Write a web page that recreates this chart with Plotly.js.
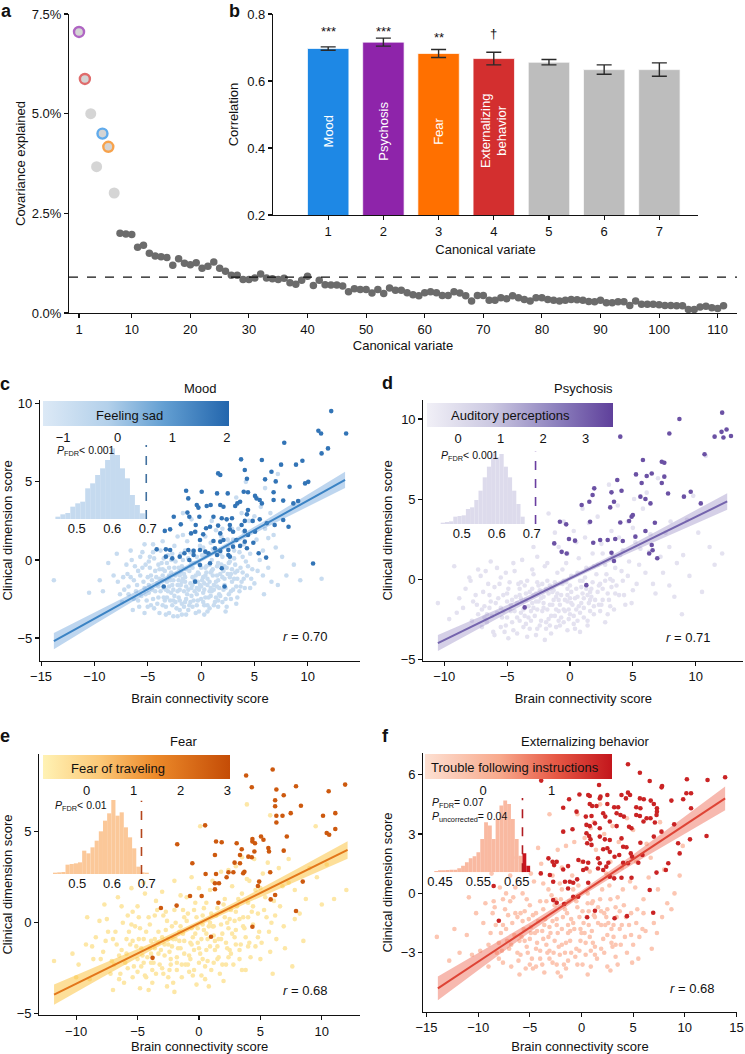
<!DOCTYPE html>
<html><head><meta charset="utf-8">
<script src="https://cdn.plot.ly/plotly-3.0.1.min.js"></script>
<style>html,body{margin:0;padding:0;background:#fff}#chart{width:745px;height:1054px}</style>
</head><body><div id="chart"></div>
<script>
// ---------------- DATA ----------------
// Panel a: covariance explained (%) per canonical variate (1..111)
const aCovariance = [7.05,5.87,5.0,3.67,4.5,4.17,3.01,2.0,1.98,1.97,
1.65,1.7,1.5,1.43,1.41,1.39,1.2,1.36,1.25,1.21,
1.26,1.12,1.17,1.28,1.12,1.05,0.95,0.95,0.84,0.84,
0.88,0.98,0.88,0.86,0.84,0.87,0.76,0.72,0.82,0.92,
0.69,0.82,0.71,0.70,0.70,0.68,0.53,0.61,0.59,0.59,
0.50,0.59,0.49,0.63,0.57,0.57,0.51,0.46,0.43,0.51,
0.53,0.51,0.44,0.44,0.53,0.50,0.43,0.30,0.44,0.44,
0.32,0.32,0.38,0.36,0.43,0.38,0.34,0.30,0.38,0.38,
0.34,0.32,0.30,0.32,0.34,0.33,0.32,0.29,0.28,0.32,
0.26,0.26,0.28,0.28,0.19,0.30,0.22,0.22,0.22,0.21,
0.19,0.19,0.18,0.18,0.09,0.09,0.15,0.17,0.13,0.11,
0.18];
const aNullLevel = 0.9;
const aXTicks = [1,10,20,30,40,50,60,70,80,90,100,110];
const aYTicks = [0,2.5,5,7.5];
const aYTickText = ['0.0%','2.5%','5.0%','7.5%'];

// Panel b: correlation per canonical variate
const bVariate = [1,2,3,4,5,6,7];
const bCorr = [0.697,0.716,0.682,0.667,0.656,0.634,0.634];
const bErr = [0.005,0.012,0.012,0.019,0.008,0.014,0.020];
const bNames = ['Mood','Psychosis','Fear','Externalizing<br>behavior'];
const bSig = ['***','***','**','†'];
const bSigY = [0.749,0.749,0.731,0.743];

// Panel c: Mood
const cLight = [[-13.8,-1.3],[-9.2,-2.0],[-8.7,-0.2],[-7.2,-1.9],[-6.5,0.0],[-6.3,-2.5],[-7.8,-1.4],[-6.9,-0.9],[-6.0,-1.6],[-5.8,-3.0],
[-5.5,0.5],[-5.2,-0.3],[-5.0,-1.1],[-4.9,-2.1],[-4.7,-2.9],[-4.5,1.0],[-4.4,0.1],[-4.3,-0.7],[-4.1,-1.5],[-4.0,-2.4],
[-3.9,-3.4],[-3.8,0.6],[-3.7,-0.2],[-3.6,-1.0],[-3.5,-1.8],[-3.4,-2.6],[-3.3,-3.0],[-3.1,0.3],[-3.0,-0.5],[-2.9,-1.3],
[-2.8,-2.1],[-2.7,-2.9],[-2.6,-3.6],[-2.5,0.9],[-2.4,-0.1],[-2.3,-0.9],[-2.2,-1.6],[-2.1,-2.4],[-2.0,-3.2],[-1.9,0.4],
[-1.8,-0.4],[-1.7,-1.2],[-1.6,-2.0],[-1.5,-2.7],[-1.4,-3.5],[-1.3,1.2],[-1.2,0.1],[-1.1,-0.7],[-1.0,-1.5],[-0.9,-2.3],
[-0.8,-3.0],[-0.7,0.6],[-0.6,-0.2],[-0.5,-1.0],[-0.4,-1.8],[-0.3,-2.6],[-0.2,-3.3],[-0.1,0.9],[0.0,-0.5],[0.1,-1.3],
[0.2,-2.1],[0.3,-2.9],[0.4,0.3],[0.5,-0.8],[0.6,-1.6],[0.7,-2.4],[0.8,-3.1],[0.9,1.1],[1.0,0.0],[1.1,-1.0],
[1.2,-1.9],[1.3,-2.7],[1.4,0.5],[1.5,-0.4],[1.6,-1.3],[1.7,-2.2],[1.9,1.5],[2.0,0.2],[2.1,-0.7],[2.2,-1.6],
[2.3,-2.5],[2.5,0.8],[2.6,-0.2],[2.7,-1.1],[2.8,-2.0],[3.0,1.3],[3.1,0.1],[3.2,-0.8],[3.3,-1.7],[3.5,2.0],
[3.6,0.5],[3.7,-0.5],[3.8,-1.4],[4.0,1.0],[4.2,-0.1],[4.3,-1.0],[4.5,2.5],[4.6,0.4],[4.8,-0.6],[5.0,-1.5],
[5.2,1.3],[5.5,0.0],[5.8,-1.0],[6.0,2.0],[6.3,-0.5],[6.6,-1.4],[7.2,-1.6],[7.0,0.8],[8.7,-0.3],[11.3,-1.2],
[-1.7,3.0],[-1.7,1.6],[7.2,5.5],[3.3,4.0],[4.2,5.0],[6.0,4.6],[2.0,2.0],[-0.5,1.8],[1.0,2.5],[2.5,1.3],[5.0,2.8],[4.0,1.8],[6.5,3.0],
[-3.2,-1.4],[-2.6,-1.9],[-2.0,-1.0],[-1.4,-1.7],[-0.8,-1.1],[-0.2,-1.9],[0.4,-1.0],[1.0,-2.0],[-4.6,-1.3],[-3.9,-0.6],
[-2.4,-2.7],[-1.1,-2.9],[0.3,-3.5],[1.6,-3.0],[-5.6,-2.3],[-6.2,-0.4],[-3.0,-3.4],[-1.8,-3.5],[2.4,-3.0],[3.4,-2.4],
[-7.4,-2.7],[-5.3,-3.4],[0.8,-0.3],[-0.4,0.2],[1.8,-0.9],[2.9,-1.4],[-2.8,0.0],[-4.8,0.2],[-1.5,0.6],[0.2,0.8],
[-6.6,-1.1],[-6.1,-2.0],[-5.9,-0.7],[-5.4,-1.4],[-5.1,-2.6],[-4.8,-0.5],[-4.6,-1.9],[-4.4,-3.1],[-4.2,-1.1],[-4.0,-0.3],
[-3.8,-2.0],[-3.6,-2.9],[-3.4,-0.7],[-3.2,-2.4],[-3.0,-1.7],[-2.8,-0.8],[-2.6,-1.3],[-2.5,-2.3],[-2.3,-3.1],[-2.1,-0.5],
[-2.0,-1.9],[-1.8,-2.8],[-1.6,-0.9],[-1.5,-1.4],[-1.3,-2.2],[-1.2,-3.2],[-1.0,-0.4],[-0.9,-1.8],[-0.7,-2.6],[-0.6,-1.3],
[-0.4,-2.2],[-0.3,-0.8],[-0.1,-1.6],[0.0,-2.5],[0.2,-1.1],[0.3,-1.9],[0.5,-0.4],[0.6,-2.9],[0.8,-1.4],[0.9,-2.3],
[1.1,-0.6],[1.2,-1.6],[1.4,-2.4],[1.5,-1.0],[1.7,-1.8],[1.9,-0.3],[2.0,-2.7],[2.2,-1.2],[2.4,-0.5],[2.6,-2.2],
[2.8,-0.9],[3.0,-1.9],[3.2,-0.3],[3.4,-1.2],[3.6,-2.0],[3.9,-0.8],[4.1,-1.8],[4.4,-0.4],[4.7,-1.2],[5.3,-0.7],
[-6.8,-2.2],[-7.0,-0.3],[-5.7,0.2],[-5.0,-3.0],[-4.5,0.5],[-3.5,0.1],[-3.3,-3.5],[-2.7,0.4],[-2.2,-3.6],[-1.7,0.0],
[-1.0,0.5],[-0.5,-3.4],[0.1,0.3],[0.6,-3.3],[1.1,0.7],[1.8,0.4],[2.3,-3.3],[3.1,0.6],[3.9,0.2],[4.6,-1.8],
[-8.2,-1.0],[-7.6,-2.2],[-6.4,-3.2],[-5.3,-1.8],[-4.9,-0.1],[-4.1,-2.8],[-3.7,-1.3],[-3.1,-2.0],[-2.4,-1.0],[-1.9,-1.6],
[-1.4,-2.5],[-0.8,-1.6],[-0.2,-0.2],[0.4,-2.4],[0.9,-0.8],[1.6,-2.6],[2.1,-1.9],[2.7,-0.1],[3.3,-2.8],[4.0,-1.2],
[-9.5,-1.3],[-10.5,-2.1],[-7.9,0.4],[-6.6,0.6],[5.8,0.6],[6.3,1.4],[7.6,0.2],[8.0,-1.0],[9.3,-1.3],[5.9,-2.2],
[2.9,2.0],[1.4,1.9],[0.4,1.5],[-0.9,2.6],[3.8,3.0],[5.6,3.4],[6.8,1.6],[-2.2,1.5],[-3.6,1.2],[-5.3,1.0],
[-5.7,-1.0],[-5.2,-2.2],[-4.7,-1.0],[-4.3,-2.0],[-3.9,-1.2],[-3.5,-2.4],[-3.2,-0.2],[-2.9,-2.6],[-2.7,-1.6],[-2.5,-0.5],
[-2.2,-2.0],[-2.0,-2.6],[-1.8,-1.4],[-1.6,-3.0],[-1.4,-0.6],[-1.2,-1.9],[-1.0,-2.7],[-0.8,-0.5],[-0.6,-2.0],[-0.4,-2.9],
[-0.2,-0.9],[0.0,-1.7],[0.2,-2.7],[0.4,-0.5],[0.6,-1.2],[0.8,-2.0],[1.0,-0.7],[1.2,-2.9],[1.4,-1.4],[1.6,-0.2],
[1.8,-2.3],[2.0,-1.1],[2.3,-1.8],[2.5,-0.9],[2.8,-2.5],[3.1,-1.2],[3.4,-0.7],[3.7,-1.7],[-5.9,-2.6],[-6.3,-1.3],
[-4.5,-2.5],[-4.0,-1.7],[-3.6,-0.6],[-3.0,-1.0],[-2.6,-2.6],[-2.1,-1.3],[-1.5,-1.1],[-0.9,-0.2],[-0.3,-1.4],[0.3,-1.5],
[0.9,-1.8],[1.5,-1.7],[2.2,-0.4],[2.9,-0.6],[-7.3,-1.1],[-6.8,-1.7],[-5.5,-0.5],[-4.9,-1.6],[-3.3,-1.9],[-1.9,-0.8]];
const cDark = [[12.2,9.53],[11.0,8.27],[11.25,8.1],[13.6,8.1],[7.8,7.5],[11.9,7.14],[11.3,6.82],[3.75,6.44],[5.7,6.4],[7.5,6.1],
[8.9,6.1],[9.5,6.35],[4.1,5.76],[6.6,5.65],[1.6,5.54],[1.8,5.44],[4.3,5.2],[6.0,5.16],[7.0,5.03],[9.75,4.9],
[10.05,5.0],[-1.4,4.43],[0.06,4.37],[1.5,4.26],[2.5,4.26],[4.0,4.37],[4.4,4.33],[8.3,4.69],[6.8,4.33],[5.06,4.1],
[5.2,3.94],[5.5,3.84],[5.7,3.62],[6.8,3.84],[7.7,3.8],[8.65,3.62],[9.1,3.77],[-1.2,3.94],[-0.4,3.52],[-0.25,3.35],
[0.53,3.45],[0.9,3.52],[1.8,3.52],[2.1,3.41],[3.2,3.45],[3.4,3.62],[3.66,3.73],[4.4,3.2],[4.3,2.92],[-2.56,2.77],
[-1.28,3.03],[-1.1,2.77],[-0.16,2.77],[1.16,2.77],[1.94,2.67],[2.4,2.6],[2.9,2.67],[5.5,2.6],[6.16,2.35],[6.9,2.24],
[8.2,2.13],[7.7,2.56],[-1.9,2.28],[-0.5,2.24],[0.47,2.03],[0.84,2.13],[1.6,2.2],[2.7,2.24],[3.8,2.24],[4.1,2.5],
[4.84,2.5],[-3.4,1.86],[-2.9,1.96],[-0.94,1.7],[-0.56,1.81],[0.2,1.64],[1.8,1.7],[2.7,1.96],[3.0,1.81],[4.1,1.86],
[4.4,1.6],[5.06,1.81],[-0.1,1.28],[1.16,1.21],[1.8,1.17],[2.1,1.28],[3.3,1.28],[4.1,1.17],[4.9,1.1],[-4.16,0.68],
[-3.3,0.68],[-2.9,0.64],[-1.2,0.64],[-0.7,0.58],[-0.1,0.64],[0.4,0.53],[1.3,0.75],[1.8,0.58],[2.56,0.64],[3.0,0.85],
[3.66,0.9],[4.3,0.75],[5.4,0.43],[-3.3,0.21],[-2.7,0.1],[-2.0,0.21],[-1.56,0.43],[-1.1,0.0],[-0.7,0.32],[0.7,0.43],
[1.5,0.32],[2.56,0.32],[2.7,0.21],[6.1,0.15],[10.5,-0.23],[-0.1,-0.32],[0.84,-0.21],[1.94,-0.53],[-3.5,-1.7],[2.2,-1.7],[-0.56,-1.39]];
const cFitX = [-13.8,-10,-6,-3,0,3,6,10,13.5];
const cFitY = [-5.20,-3.76,-2.25,-1.11,0.02,1.15,2.29,3.80,5.12];
const cFitHi = [-4.68,-3.38,-2.01,-0.95,0.15,1.31,2.53,4.18,5.64];
const cFitLo = [-5.72,-4.14,-2.49,-1.27,-0.11,0.99,2.05,3.42,4.60];
const cHistX = [0.447,0.461,0.475,0.489,0.503,0.517,0.531,0.545,0.559,0.573,0.587,0.601,0.615,0.629,0.643,0.657,0.671,0.685];
const cHistY = [7,14,18,37,47,52,92,107,132,152,177,212,192,152,122,72,42,17];
const cObserved = 0.696;
const cScaleTicks = [-1,0,1,2];

// Panel d: Psychosis
const dLight = [[-10.5,-1.5],[-9.2,0.8],[-8.0,0.1],[-7.3,0.6],[-5.8,0.7],[-1.7,4.1],[11.1,2.0],[12.1,1.6],[8.9,-2.2],[10.5,-0.8],
[7.9,-0.4],[4.2,1.8],[3.1,5.9],[9.3,3.7],[10.8,7.7],
[-8.5,-1.8],[-7.8,-2.6],[-7.5,-1.0],[-7.0,-3.0],[-6.8,-1.7],[-6.5,-0.3],[-6.2,-2.3],[-6.0,-3.5],[-5.7,-1.2],[-5.5,0.1],
[-5.3,-2.0],[-5.1,-2.9],[-4.9,-0.6],[-4.7,-1.6],[-4.5,-3.2],[-4.4,0.5],[-4.2,-2.4],[-4.0,-1.0],[-3.9,-0.2],[-3.7,-1.9],
[-3.5,-2.8],[-3.4,-3.6],[-3.2,-0.8],[-3.0,-1.5],[-2.9,0.3],[-2.8,-2.3],[-2.6,-3.1],[-2.5,-0.4],[-2.3,-1.2],[-2.2,-2.0],
[-2.0,0.8],[-1.9,-2.7],[-1.8,-0.1],[-1.6,-1.6],[-1.5,-3.4],[-1.3,-0.7],[-1.2,-2.3],[-1.0,0.4],[-0.9,-1.3],[-0.8,-2.9],
[-0.6,-0.3],[-0.5,-1.9],[-0.3,1.0],[-0.2,-1.0],[-0.1,-2.5],[0.1,0.2],[0.2,-1.6],[0.4,-3.1],[0.5,-0.6],[0.7,1.3],
[0.8,-2.1],[1.0,-0.1],[1.1,-1.2],[1.3,0.7],[1.4,-2.6],[1.6,-0.8],[1.8,1.6],[1.9,-1.7],[2.1,0.3],[2.3,-0.4],
[2.5,2.2],[2.6,-1.3],[2.8,0.9],[3.0,-2.2],[3.2,0.0],[3.4,1.4],[3.6,-0.9],[3.9,2.6],[4.1,0.5],[4.4,-1.6],
[4.7,1.1],[5.0,3.2],[5.3,-0.3],[5.6,1.9],[6.0,0.4],[6.4,2.8],[6.8,-0.9],[7.2,1.4],[5.8,4.4],[4.6,3.6],
[3.3,3.0],[2.2,3.9],[1.2,2.6],[0.3,3.0],[-0.9,2.0],[-2.6,1.4],[-3.8,1.2],[-5.0,-1.4],[-4.0,-2.6],[-3.1,-2.0],
[-2.1,-1.5],[-1.1,-1.9],[-0.2,-1.4],[0.6,-2.6],[-1.7,-0.9],[-2.7,-0.9],[-3.6,-0.4],[0.0,-0.4],[1.5,-1.5],[-6.4,-1.0],
[-7.1,0.2],[-9.0,-2.1],[-8.3,-0.6],[7.6,2.9],[8.5,1.0],[9.5,0.2],[6.1,5.4],[8.0,3.6],[1.0,4.4],[-0.5,3.6],
[3.8,4.6],[5.1,5.0],[9.8,5.2],[7.0,6.3],
[-7.7,-1.4],[-7.3,-2.2],[-6.9,-0.8],[-6.6,-2.7],[-6.3,-1.4],[-6.0,-0.5],[-5.8,-2.1],[-5.5,-3.0],[-5.3,-1.0],[-5.0,-2.4],
[-4.8,-0.2],[-4.6,-1.3],[-4.4,-2.0],[-4.2,-3.4],[-4.0,-0.6],[-3.8,-1.4],[-3.6,-2.3],[-3.4,-0.1],[-3.3,-1.7],[-3.1,-2.6],
[-2.9,-1.0],[-2.7,-3.5],[-2.6,-1.9],[-2.4,-0.7],[-2.3,-2.6],[-2.1,-1.1],[-1.9,-3.1],[-1.8,-1.9],[-1.6,-0.4],[-1.5,-2.3],
[-1.3,-1.3],[-1.1,-3.0],[-1.0,-0.9],[-0.8,-1.6],[-0.7,-2.4],[-0.5,-0.1],[-0.4,-1.3],[-0.2,-3.2],[-0.1,-1.9],[0.1,-0.8],
[0.3,-2.3],[0.4,-1.2],[0.6,0.4],[0.7,-1.7],[0.9,-0.5],[1.1,-2.4],[1.2,0.1],[1.4,-1.0],[1.6,-2.0],[1.8,-0.2],
[2.0,-1.3],[2.2,0.9],[2.4,-2.0],[2.6,-0.6],[2.9,0.3],[3.1,-1.3],[3.3,-0.5],[3.6,0.7],[3.9,-1.0],[4.2,-0.1],
[4.6,0.2],[5.0,-0.7],[5.5,0.9],[-5.1,0.4],[-6.1,-3.3],[-4.9,-3.7],[-3.0,0.6],[-2.0,-3.8],[-0.6,0.6],[0.8,-3.3],
[1.9,0.8],[2.8,-2.7],[3.5,-1.9],[-8.8,-1.2],[-9.6,-2.5],[-7.9,-0.1],[-7.0,-1.9],[-6.7,0.5],[-5.6,-0.3],[-4.3,-1.1],
[-3.7,-3.0],[-3.5,-0.9],[-2.5,-1.4],[-1.4,-0.8],[-0.9,-2.0],[0.0,-1.2],[0.9,-1.5],[1.7,-0.6],[2.3,-1.6],[3.4,-0.1],
[-1.8,1.0],[-0.2,1.6],[0.5,2.3],[2.6,1.6],[4.0,1.5],[5.2,2.3],[6.3,1.7],[7.9,2.0],[8.3,-1.1],[9.0,1.5],
[6.6,-0.3],[7.4,0.4],[4.9,-1.5],[10.2,2.9],[11.5,0.9],[-4.5,1.0],[-6.3,1.1],[-2.9,2.0],[-1.2,2.9],[1.5,3.5],
[-6.4,-1.8],[-5.9,-1.5],[-5.4,-2.4],[-5.0,-0.9],[-4.6,-2.7],[-4.2,-1.5],[-3.9,-2.1],[-3.5,-1.3],[-3.2,-3.1],[-2.9,-1.8],
[-2.6,-0.2],[-2.4,-2.9],[-2.1,-1.8],[-1.9,-0.6],[-1.7,-2.5],[-1.4,-1.6],[-1.2,-0.2],[-0.9,-2.6],[-0.7,-1.0],[-0.4,-2.0],
[-0.2,-0.6],[0.1,-1.5],[0.3,-2.8],[0.6,-1.1],[0.8,-0.1],[1.1,-1.8],[1.3,-0.6],[1.6,-1.3],[1.9,-2.2],[2.2,-0.8],
[2.5,-1.6],[2.8,-0.1],[3.2,-1.7],[3.7,-0.4],[4.3,-1.0],[-7.4,-1.6],[-6.6,-2.2],[-5.2,-3.3],[-4.1,-0.3],[-3.3,-2.4],
[-2.7,-1.4],[-2.2,-0.3],[-1.6,-2.9],[-1.1,-1.1],[-0.5,-2.7],[0.0,-2.2],[0.5,-1.9],[1.0,-0.9],[1.7,-1.1],[2.4,-0.3],
[-3.9,-1.2],[-4.7,-2.0],[-3.0,-0.6],[-0.3,-0.2],[1.4,-2.9],[3.0,-0.9],[-5.5,-1.8],[-6.8,-2.4]];
const dDark = [[12.1,10.4],[8.7,10.0],[7.9,9.1],[12.05,9.2],[12.45,9.35],[12.8,8.94],[11.5,8.9],[12.2,8.85],[4.0,8.9],[10.7,7.8],
[5.8,7.44],[7.3,7.33],[7.5,7.27],[3.76,6.19],[5.25,6.54],[6.5,6.6],[6.1,6.44],[5.7,6.0],[7.3,6.0],[7.5,6.4],
[1.93,5.67],[4.1,5.52],[3.3,5.42],[9.6,5.46],[9.06,5.15],[7.8,5.35],[5.6,5.15],[6.0,5.0],[6.4,4.73],[10.4,4.73],
[1.8,5.25],[0.93,4.63],[1.54,4.83],[3.5,4.83],[3.2,4.48],[-0.8,3.58],[-0.3,3.42],[1.6,3.58],[4.0,3.54],[4.7,3.63],
[4.9,3.9],[5.0,4.0],[6.75,3.52],[6.0,3.0],[-1.25,2.23],[-0.08,2.5],[0.4,2.4],[1.85,2.27],[2.4,2.44],[3.0,2.44],
[3.6,2.5],[4.2,2.38],[5.2,2.65],[6.5,2.13],[6.3,1.6],[6.57,1.8],[6.94,1.3],[-0.66,1.7],[-0.26,1.6],[3.3,1.65],
[3.5,1.13],[1.3,-0.38],[-3.6,-1.77]];
const dFitX = [-10.5,-7,-3.5,0,3.5,7,10,12.5];
const dFitY = [-4.0,-2.65,-1.31,0.04,1.39,2.73,3.89,4.85];
const dFitHi = [-3.5,-2.31,-1.11,0.17,1.57,3.03,4.31,5.37];
const dFitLo = [-4.5,-2.99,-1.51,-0.09,1.21,2.43,3.47,4.33];
const dHistX = [0.446,0.458,0.470,0.482,0.494,0.506,0.518,0.530,0.542,0.554,0.566,0.578,0.590,0.602,0.614,0.626,0.638,0.650,0.662,0.674];
const dHistY = [4,6,8,22,24,26,45,50,72,100,140,172,212,200,210,172,140,100,60,22];
const dObserved = 0.711;
const dScaleTicks = [0,1,2,3];

// Panel e: Fear
const eLight = [[-11.8,-2.1],[-10.0,-3.0],[-9.2,-1.2],[-8.7,-1.3],[-8.1,0.1],[-7.5,0.2],[-4.5,2.2],[0.1,5.3],[3.9,6.5],[5.8,5.9],
[9.5,5.3],[12.0,1.8],[7.8,1.8],[7.6,-2.4],[4.5,3.5],
[-9.8,-2.3],[-8.9,-3.1],[-8.0,-2.0],[-7.6,-1.0],[-7.2,-2.8],[-6.8,-0.5],[-6.5,-1.8],[-6.1,-3.3],[-5.8,0.4],[-5.6,-1.2],
[-5.3,-2.4],[-5.0,0.9],[-4.8,-0.3],[-4.6,-1.8],[-4.3,-3.0],[-4.1,0.3],[-3.9,-1.0],[-3.7,-2.2],[-3.5,1.2],[-3.3,-0.5],
[-3.1,-1.5],[-2.9,-2.8],[-2.7,0.6],[-2.5,-0.9],[-2.3,-2.0],[-2.1,-3.3],[-1.9,0.0],[-1.7,-1.4],[-1.5,1.5],[-1.3,-0.6],
[-1.1,-2.3],[-0.9,0.5],[-0.7,-1.1],[-0.5,-2.9],[-0.3,1.1],[-0.1,-0.3],[0.1,-1.7],[0.3,0.4],[0.5,-2.4],[0.7,-0.9],
[0.9,1.8],[1.1,-0.2],[1.3,-1.5],[1.5,0.8],[1.7,-2.8],[1.9,-0.6],[2.1,1.3],[2.3,-1.4],[2.5,0.2],[2.7,2.0],
[2.9,-0.8],[3.1,0.9],[3.3,-2.0],[3.5,1.6],[3.7,-0.3],[3.9,2.4],[4.1,-1.1],[4.3,0.6],[4.6,1.8],[4.9,-0.5],
[5.2,2.7],[5.5,0.3],[5.8,-1.6],[6.1,1.2],[6.5,3.0],[6.9,-0.2],[7.3,2.2],[7.0,-1.4],[8.2,0.5],[9.0,3.0],
[10.0,1.0],[-4.9,-0.9],[-3.8,-2.6],[-2.8,-1.2],[-1.8,-2.6],[-0.8,-1.8],[0.2,-2.9],[1.2,-2.2],[-2.2,-0.2],[-1.2,0.3],
[0.4,-0.4],[1.6,-0.9],[2.6,-1.7],[-3.6,0.4],[-5.2,-0.2],[-6.3,0.9],[-4.4,1.6],[-2.0,2.3],[-0.6,2.5],[0.6,1.1],
[1.8,2.8],[3.0,3.1],[2.0,-3.2],[-0.2,-3.4],[-2.6,-3.5],[-4.8,-3.6],[3.8,-2.6],[5.0,-2.0],[6.0,-2.8],[-7.0,-3.7],
[-6.9,-2.3],[-0.4,0.7],[-1.4,-3.0],[1.0,0.5],[2.2,-2.3],
[-7.8,-1.6],[-7.4,-0.5],[-7.1,-2.1],[-6.7,-1.2],[-6.4,-2.8],[-6.2,0.0],[-5.9,-1.7],[-5.7,-0.5],[-5.4,-3.0],[-5.1,-1.3],
[-4.9,0.3],[-4.7,-2.4],[-4.5,-0.9],[-4.2,-1.9],[-4.0,-0.1],[-3.8,-3.3],[-3.6,-1.4],[-3.4,0.7],[-3.2,-2.3],[-3.0,-0.8],
[-2.8,-1.8],[-2.6,0.1],[-2.4,-2.6],[-2.2,-1.3],[-2.0,0.7],[-1.8,-1.9],[-1.6,-0.5],[-1.4,-2.3],[-1.2,-1.0],[-1.0,0.1],
[-0.8,-2.7],[-0.6,-0.3],[-0.4,-1.5],[-0.2,0.3],[0.0,-2.2],[0.2,-0.9],[0.4,0.8],[0.6,-1.5],[0.8,-0.2],[1.0,-2.6],
[1.2,-0.7],[1.4,0.4],[1.6,-1.9],[1.8,-0.1],[2.0,1.0],[2.2,-1.1],[2.4,-0.3],[2.6,0.7],[2.8,-2.3],[3.0,-0.4],
[3.2,1.3],[3.4,-1.2],[3.6,0.3],[3.8,-0.8],[4.0,1.1],[4.2,-1.9],[4.4,-0.1],[4.8,0.5],[5.1,-1.1],[5.4,1.4],
[5.9,0.0],[6.3,-0.9],[6.6,0.9],[-6.0,-2.2],[-5.0,-2.0],[-4.4,-2.9],[-3.3,-1.1],[-2.5,-3.0],[-1.5,-1.4],[-0.5,-0.8],
[0.5,-3.1],[1.5,-1.3],[2.5,-1.5],[3.5,-2.6],[-8.4,-0.8],[-9.1,0.3],[-8.6,-2.0],[-10.3,-1.7],[-7.7,1.0],[-6.6,1.4],
[-5.5,1.9],[-3.0,1.7],[-1.0,1.4],[0.0,1.9],[1.1,2.3],[2.4,2.9],[3.5,3.6],[4.1,2.3],[5.6,3.3],[6.8,2.0],
[7.8,0.2],[8.7,1.3],[9.6,2.5],[7.3,3.5],[10.4,3.2],[11.0,1.3],[8.5,-1.0],[-2.0,-3.8],[0.8,-3.5],[-4.1,-3.7],
[-1.9,-0.9],[-0.1,-1.1],[1.9,-2.3],[-3.9,-1.7],[-5.4,0.6],[-2.9,0.4],[0.9,0.0],[2.9,0.1],[4.6,-1.3],[5.0,1.9],
[-6.3,-1.5],[-5.8,-2.5],[-5.4,-1.0],[-5.0,-2.7],[-4.7,-1.4],[-4.3,-0.5],[-3.9,-2.2],[-3.6,-0.9],[-3.3,-1.7],[-3.0,-2.5],
[-2.7,-0.4],[-2.4,-1.6],[-2.1,-0.9],[-1.8,-2.2],[-1.5,-0.2],[-1.2,-1.7],[-0.9,-2.3],[-0.6,-1.2],[-0.3,-0.6],[0.0,-1.4],
[0.3,-2.0],[0.6,-0.6],[0.9,-1.3],[1.2,-0.2],[1.5,-2.0],[1.8,-0.9],[2.1,0.3],[2.4,-1.9],[2.7,-0.6],[3.0,0.6],
[3.3,-1.5],[3.6,-0.2],[4.0,-1.3],[4.4,0.9],[4.8,-0.8],[5.3,0.7],[5.7,-0.5],[6.2,0.4],[-7.0,-0.9],[-6.5,-3.1],
[-5.5,-0.1],[-4.5,-2.2],[-3.5,-2.8],[-2.5,-1.2],[-1.6,-1.0],[-0.7,-2.0],[0.3,-0.1],[1.3,-1.0],[2.3,0.0],[3.3,0.2],
[-1.3,0.7],[-0.4,-2.6],[0.7,-2.1],[-2.3,-2.3],[-4.0,-1.4],[-5.9,-0.9],[4.0,0.3],[3.0,-1.2]];
const eDark = [[6.0,8.42],[3.84,8.09],[4.3,7.44],[6.3,7.32],[7.9,7.5],[11.9,7.59],[6.9,7.0],[6.2,6.73],[6.2,6.4],[10.56,7.22],
[8.3,6.43],[7.47,6.02],[11.1,6.02],[10.1,5.88],[6.3,5.88],[6.8,5.88],[6.3,5.51],[0.5,5.35],[10.4,4.93],[10.6,4.83],
[11.1,5.15],[7.15,4.74],[5.05,4.74],[5.25,4.56],[4.35,4.6],[4.35,4.46],[4.56,4.37],[5.65,4.1],[5.7,3.91],[-1.77,4.31],
[1.39,4.46],[1.85,4.42],[3.07,4.37],[3.48,4.04],[4.51,3.91],[4.02,3.63],[4.3,3.6],[3.34,3.72],[6.9,3.96],[1.3,3.72],
[-0.54,3.27],[2.9,3.3],[3.34,3.27],[3.7,2.8],[3.6,2.72],[0.54,2.68],[1.39,2.68],[2.4,2.77],[2.8,2.77],[5.8,2.77],
[2.25,2.5],[1.3,2.17],[1.63,2.17],[4.9,2.26],[4.8,2.02],[8.45,2.26],[1.3,1.84],[-0.73,1.47],[0.22,1.47],[-1.82,0.94],
[-3.1,0.81],[1.58,1.1],[5.84,1.28],[6.2,1.52],[7.9,0.64],[0.98,-0.77],[4.35,-0.22],[-3.78,-1.93]];
const eFitX = [-11.8,-8,-4,0,4,8,12.1];
const eFitY = [-3.95,-2.69,-1.36,-0.03,1.31,2.64,4.0];
const eFitHi = [-3.4,-2.33,-1.16,0.11,1.51,2.97,4.48];
const eFitLo = [-4.5,-3.05,-1.56,-0.17,1.11,2.31,3.52];
const eHistX = [0.436,0.448,0.460,0.472,0.484,0.496,0.508,0.520,0.532,0.544,0.556,0.568,0.580,0.592,0.604,0.616,0.628,0.640,0.652,0.664,0.676,0.688,0.700];
const eHistY = [4,5,6,28,30,32,35,70,62,80,100,128,160,182,222,175,185,140,110,77,22,5,4];
const eObserved = 0.685;
const eScaleTicks = [0,1,2,3];

// Panel f: Externalizing behavior
const fLight = [[-14.0,-2.2],[-12.8,-3.4],[-11.1,-2.1],[-10.6,-3.1],[-8.5,-0.4],[-7.3,0.0],[-3.1,4.0],[8.7,-0.8],[7.3,-2.0],[6.0,-1.0],
[-3.1,-3.3],[-2.3,-4.0],[2.5,-3.7],[-7.6,-3.5],
[-9.5,-1.5],[-9.0,-2.6],[-8.6,-1.0],[-8.2,-3.0],[-7.8,-2.0],[-7.4,-0.8],[-7.0,-2.8],[-6.7,-1.5],[-6.4,0.3],[-6.1,-3.4],
[-5.8,-2.2],[-5.5,-0.9],[-5.2,-3.0],[-4.9,-1.7],[-4.6,0.6],[-4.3,-2.5],[-4.0,-0.4],[-3.8,-3.6],[-3.5,-1.3],[-3.2,-2.2],
[-2.9,-0.1],[-2.7,-3.0],[-2.4,-1.6],[-2.1,0.5],[-1.9,-2.6],[-1.6,-0.8],[-1.3,-3.4],[-1.1,-1.9],[-0.8,0.2],[-0.5,-2.8],
[-0.2,-1.2],[0.1,-3.6],[0.3,-2.0],[0.6,0.0],[0.9,-2.9],[1.2,-1.1],[1.5,-3.3],[1.8,-0.3],[2.1,-2.3],[2.4,-1.2],
[2.7,0.4],[3.0,-2.7],[3.3,-0.7],[3.7,-1.8],[4.0,0.2],[4.4,-3.0],[4.8,-1.0],[5.2,0.3],[5.6,-2.2],[6.0,-0.3],
[6.5,0.8],[7.0,-1.5],[8.0,1.2],[9.0,0.0],[9.8,2.4],[-5.8,1.2],[-3.9,1.5],[-1.9,1.3],[0.0,1.6],[1.4,2.2],
[2.8,1.6],[-0.7,2.6],[3.6,2.6],[5.0,3.2],[6.3,2.5],[7.6,3.6],[-6.9,0.9],[-4.4,-1.0],[-3.3,-3.0],[-2.0,-0.3],
[-1.0,-1.3],[0.8,-2.2],[1.9,-1.6],[-5.0,-2.3],[-6.2,-1.2],[-8.0,-2.5],[-2.6,-2.4],[-0.4,-3.6],[1.1,-0.4],[3.1,-1.6],
[4.2,-2.2],[-1.5,-3.8],[0.5,-1.2],[-3.7,0.5],[-4.7,-3.8],[-9.3,-0.5],[5.5,-3.3],[6.8,-2.8],[-6.0,-4.1],[3.5,-3.6],
[-2.3,2.2],[0.9,3.3],[2.2,3.0],[-0.4,4.0],[1.8,4.5],[4.4,3.8],
[-8.8,-2.0],[-8.4,-0.7],[-8.0,-3.3],[-7.6,-1.6],[-7.2,-2.4],[-6.9,-0.4],[-6.5,-2.1],[-6.2,-3.0],[-5.9,-1.0],[-5.6,-1.8],
[-5.3,-2.7],[-5.0,-0.6],[-4.8,-3.3],[-4.5,-2.0],[-4.2,-1.4],[-4.0,-2.9],[-3.7,-0.8],[-3.4,-2.6],[-3.1,-1.7],[-2.8,-3.5],
[-2.6,-0.6],[-2.3,-2.0],[-2.1,-3.1],[-1.8,-1.2],[-1.5,-2.5],[-1.2,-0.4],[-1.0,-3.0],[-0.7,-1.8],[-0.4,-0.7],[-0.1,-2.4],
[0.2,-1.5],[0.4,-3.1],[0.7,-0.9],[1.0,-1.9],[1.3,-2.7],[1.6,-0.7],[1.9,-2.8],[2.2,-1.0],[2.5,-2.1],[2.8,-0.3],
[3.1,-2.2],[3.4,-1.2],[3.8,-2.6],[4.1,-0.6],[4.6,-1.6],[5.0,-2.6],[5.4,-0.8],[5.9,-1.8],[-6.8,-3.7],[-5.7,0.0],
[-4.4,-3.7],[-3.2,0.2],[-1.7,-3.6],[-0.3,0.4],[0.9,-3.7],[2.0,0.2],[3.3,-3.2],[4.7,0.6],[-7.9,0.3],[-9.8,-2.9],
[-10.2,-1.0],[-11.8,-3.0],[-12.3,-1.8],[-9.0,-3.7],[-5.1,-1.3],[-3.8,-1.9],[-2.4,-1.3],[-1.3,-1.6],[0.0,-2.0],[1.3,-1.2],
[2.6,-1.5],[3.9,-1.6],[-4.9,1.0],[-2.8,0.9],[-0.9,0.9],[0.8,1.1],[2.4,1.0],[3.9,1.3],[5.3,1.6],[6.7,1.8],
[7.4,0.2],[8.3,-0.5],[9.5,0.9],[6.2,-1.9],[7.8,-1.2],[4.9,-3.5],[-6.3,1.8],[-4.2,2.3],[-1.5,2.4],[0.3,2.8],
[1.2,3.6],[3.0,3.4],[-8.7,1.0],[-10.9,-0.2],[-7.1,-1.1],[-5.4,-3.8],[-2.0,-4.2],[0.6,-4.1],[-3.6,-4.0],[2.8,-3.9],
[-7.3,-1.8],[-6.8,-2.6],[-6.4,-1.0],[-6.0,-2.4],[-5.7,-1.4],[-5.3,-0.3],[-5.0,-3.6],[-4.7,-1.1],[-4.3,-1.9],[-4.0,-3.3],
[-3.7,-2.3],[-3.4,-0.4],[-3.1,-2.9],[-2.8,-1.4],[-2.5,-0.3],[-2.2,-2.7],[-1.9,-1.8],[-1.6,-3.0],[-1.4,-1.0],[-1.1,-2.4],
[-0.8,-1.5],[-0.5,-0.4],[-0.2,-2.9],[0.1,-0.9],[0.4,-2.5],[0.7,-1.6],[1.0,-0.5],[1.3,-3.1],[1.6,-1.5],[1.9,-0.9],
[2.2,-3.0],[2.5,-0.8],[2.9,-1.8],[3.3,-2.6],[3.7,-0.9],[4.3,-1.2],[4.8,-2.1],[5.3,-1.5],[-8.3,-1.6],[-7.7,-2.9],
[-6.6,-0.2],[-5.5,-2.4],[-4.4,-2.8],[-3.6,-1.6],[-2.4,-3.6],[-1.3,-2.0],[-0.1,-1.8],[1.1,-2.5],[2.3,-1.6],[3.5,-0.2],
[-3.0,-2.0],[-4.9,-2.0],[-0.6,-3.2],[0.6,-0.5],[-1.9,0.2],[-5.9,-3.1],[2.9,-2.5],[-7.6,-0.3]];
const fDark = [[4.5,6.53],[5.65,6.1],[1.7,5.48],[6.6,5.68],[10.2,5.77],[12.2,5.73],[13.9,5.87],[-3.9,5.7],[7.75,5.36],[7.8,5.43],
[10.15,5.06],[-0.2,5.0],[0.65,4.97],[0.8,4.92],[1.77,4.8],[1.84,4.89],[2.5,4.97],[3.87,4.97],[4.3,4.8],[4.7,4.97],
[4.5,5.09],[5.65,4.8],[6.03,4.76],[6.7,4.69],[7.0,4.52],[8.7,4.69],[9.84,4.76],[10.6,5.06],[-1.2,4.76],[0.8,4.52],
[1.03,4.42],[1.45,4.42],[2.5,4.52],[3.55,4.35],[3.16,4.35],[5.3,4.35],[5.7,4.3],[7.3,4.3],[7.3,4.13],[7.26,3.96],
[10.6,4.3],[-1.77,4.33],[-0.48,4.13],[0.42,3.88],[0.97,3.91],[2.1,4.05],[2.3,3.88],[3.4,4.05],[3.77,3.96],[4.1,3.88],
[5.3,3.96],[5.65,3.91],[6.3,3.8],[6.68,3.8],[6.0,3.63],[7.1,3.58],[8.97,3.49],[0.48,3.46],[0.8,3.4],[1.3,3.54],
[2.74,3.63],[3.4,3.4],[4.6,3.37],[4.84,3.29],[1.77,3.29],[-1.77,3.12],[-0.87,3.24],[0.48,3.04],[0.74,2.9],[0.87,2.73],
[1.77,2.87],[2.26,2.73],[2.74,2.7],[3.87,2.78],[4.03,2.36],[4.35,2.33],[5.7,2.56],[7.0,2.87],[7.74,3.12],[9.35,2.53],
[9.5,2.02],[10.5,2.73],[12.1,2.9],[0.55,2.53],[0.97,2.45],[2.1,2.23],[2.5,2.28],[2.74,2.1],[3.2,1.85],[3.65,1.94],
[4.77,2.02],[4.9,1.85],[5.9,1.94],[-3.2,1.77],[-2.8,1.6],[-2.4,1.6],[-0.3,1.69],[0.16,1.6],[0.65,1.55],[1.6,1.77],
[1.77,1.52],[2.6,1.55],[2.4,1.35],[4.03,1.55],[4.5,1.52],[5.5,1.55],[8.4,1.52],[7.26,1.05],[8.16,1.18],[-2.65,1.43],
[-1.77,1.21],[-1.3,1.38],[0.16,1.18],[0.48,1.26],[1.6,1.26],[2.1,1.18],[2.74,0.84],[3.16,0.76],[3.87,0.79],[4.84,0.79],
[-1.13,0.59],[-0.8,0.54],[-0.42,0.71],[0.65,0.54],[-3.94,1.01],[-8.5,0.37],[-2.74,0.59],[-3.06,0.93],[-1.6,0.59],[-1.3,0.25],
[-0.8,-0.17],[-0.32,-0.17],[-2.74,-0.34],[-2.4,-0.47],[-1.68,-0.54],[1.3,-0.88],[0.55,-1.21],[3.2,-1.26],[4.4,-1.15],[6.94,-0.98],
[6.6,0.17],[-8.0,-1.38]];
const fFitX = [-13.9,-10,-5,0,5,10,13.9];
const fFitY = [-4.8,-3.45,-1.73,0,1.73,3.45,4.8];
const fFitHi = [-4.2,-3.02,-1.49,0.15,1.97,3.88,5.4];
const fFitLo = [-5.4,-3.88,-1.97,-0.15,1.49,3.02,4.2];
const fHistX = [0.44,0.45,0.46,0.47,0.48,0.49,0.50,0.51,0.52,0.53,0.54,0.55,0.56,0.57,0.58,0.59,0.60,0.61,0.62,0.63,0.64,0.65,0.66];
const fHistY = [4,6,6,7,8,8,12,20,30,42,48,60,100,150,140,100,160,200,215,205,160,100,50];
const fHistTailX = [0.67,0.68];
const fHistTailY = [57,20];
const fObserved = 0.665;
const fScaleTicks = [0,1];

// ---------------- STYLE / LAYOUT ----------------
const W = 745, H = 1054;
const F = 'Liberation Sans, Arial, Helvetica, sans-serif';
const INK = '#111111';
const FS = 13;
const X = p => p / W;
const Y = p => 1 - p / H;
const font = (s, c) => ({family: F, size: s, color: c || INK});

function axis(d, range, tickvals, extra) {
  return Object.assign({
    domain: d, range: range, tickmode: 'array', tickvals: tickvals,
    showline: true, linecolor: INK, linewidth: 1.1, mirror: false,
    ticks: 'outside', ticklen: 4, tickwidth: 1.1, tickcolor: INK,
    showgrid: false, zeroline: false, tickfont: font(FS),
    automargin: false, fixedrange: true
  }, extra || {});
}
function histAxis(d, range, tickvals, anchor) {
  return {domain: d, range: range, tickmode: 'array', tickvals: tickvals, showline: false,
    ticks: '', showgrid: false, zeroline: false, tickfont: font(FS), anchor: anchor,
    automargin: false, fixedrange: true};
}
function hiddenAxis(d, range, anchor) {
  return {domain: d, range: range, visible: false, anchor: anchor, fixedrange: true};
}
function cbar(cx, top, len, thick, ticks) {
  return {orientation: 'h', x: X(cx), xanchor: 'center', y: Y(top), yanchor: 'top',
    len: len, lenmode: 'pixels', thickness: thick, thicknessmode: 'pixels',
    xpad: 0, ypad: 0, outlinewidth: 0, tickmode: 'array', tickvals: ticks, ticks: '',
    tickfont: font(FS)};
}

const panels = [
  {light: cLight, dark: cDark, fx: cFitX, fy: cFitY, hi: cFitHi, lo: cFitLo, xa: 'x3', ya: 'y3',
   cLight: '#c8dcf0', cBand: 'rgba(110,165,220,0.45)', cLine: '#3b83c4',
   scale: [[0,'#dce9f6'],[0.35,'#b3d0ea'],[0.65,'#639fd2'],[1,'#2366ad']], cmin: -1.371, cmax: 2.037, level: 1.75,
   cb: cbar(135.9, 401, 186.3, 25, cScaleTicks),
   hx: cHistX, hy: cHistY, hw: 0.014, hc: '#c5daef', obs: cObserved, obsTop: 222, hxa: 'x4', hya: 'y4', dash: '#41709f'},
  {light: dLight, dark: dDark, fx: dFitX, fy: dFitY, hi: dFitHi, lo: dFitLo, xa: 'x5', ya: 'y5',
   cLight: '#e4e2f0', cBand: 'rgba(150,138,195,0.40)', cLine: '#7464ad',
   scale: [[0,'#f1f0f7'],[0.35,'#cbc8e1'],[0.7,'#8c80bd'],[1,'#5f409b']], cmin: -0.735, cmax: 3.64, level: 3.3,
   cb: cbar(519.8, 403, 186.3, 24, dScaleTicks),
   hx: dHistX, hy: dHistY, hw: 0.012, hc: '#dddbec', obs: dObserved, obsTop: 217, hxa: 'x6', hya: 'y6', dash: '#6a3ea0'},
  {light: eLight, dark: eDark, fx: eFitX, fy: eFitY, hi: eFitHi, lo: eFitLo, xa: 'x7', ya: 'y7',
   cLight: '#fde7a6', cBand: 'rgba(252,196,70,0.55)', cLine: '#e3761a',
   scale: [[0,'#fff2b4'],[0.3,'#fcc978'],[0.6,'#ec8a2a'],[1,'#c44c06']], cmin: -0.939, cmax: 3.043, level: 2.7,
   cb: cbar(136, 755, 186.6, 24.3, eScaleTicks),
   hx: eHistX, hy: eHistY, hw: 0.012, hc: '#fbc899', obs: eObserved, obsTop: 220, hxa: 'x8', hya: 'y8', dash: '#b4461c'},
  {light: fLight, dark: fDark, fx: fFitX, fy: fFitY, hi: fFitHi, lo: fFitLo, xa: 'x9', ya: 'y9',
   cLight: '#fcc6b2', cBand: 'rgba(240,115,95,0.50)', cLine: '#de4436',
   scale: [[0,'#fde0d2'],[0.4,'#f8a98c'],[0.7,'#e65845'],[1,'#c3161c']], cmin: -0.852, cmax: 1.877, level: 1.72,
   cb: cbar(518.3, 754, 186.7, 25, fScaleTicks),
   hx: fHistX, hy: fHistY, hw: 0.01, hc: '#f9b9a1', obs: fObserved, obsTop: 223, hxa: 'x10', hya: 'y10', dash: '#b01a20'}
];

const traces = [];
// Panel a
traces.push({type: 'scatter', mode: 'markers', x0: 1, dx: 1, y: aCovariance.slice(0, 7), xaxis: 'x', yaxis: 'y',
  marker: {size: [10,10,11,11,10,10,11], color: '#c3c3c3',
    line: {color: ['#8e24aa','#d32f2f','rgba(0,0,0,0)','rgba(0,0,0,0)','#1e88e5','#f57c00','rgba(0,0,0,0)'], width: [2.4,2.4,0,0,2.4,2.4,0]}},
  cliponaxis: false, hoverinfo: 'skip'});
traces.push({type: 'scatter', mode: 'markers', x0: 8, dx: 1, y: aCovariance.slice(7), xaxis: 'x', yaxis: 'y',
  marker: {size: 7.5, color: '#6b6b6b'}, cliponaxis: false, hoverinfo: 'skip'});
// Panel b
traces.push({type: 'bar', x: bVariate, y: bCorr, xaxis: 'x2', yaxis: 'y2', width: 0.75,
  marker: {color: ['#1e88e5','#8e24aa','#ff7000','#d32f2f','#bdbdbd','#bdbdbd','#bdbdbd'],
    line: {color: 'rgba(255,255,255,0.7)', width: 1}},
  error_y: {type: 'data', array: bErr, visible: true, color: '#2a2a2a', thickness: 1.4, width: 7.5},
  hoverinfo: 'skip'});

panels.forEach(p => {
  traces.push({type: 'scatter', mode: 'markers', x: p.light.map(v => v[0]), y: p.light.map(v => v[1]),
    xaxis: p.xa, yaxis: p.ya, marker: {size: 4.6, color: p.cLight}, hoverinfo: 'skip', cliponaxis: false});
  traces.push({type: 'scatter', mode: 'lines', x: p.fx.concat(p.fx.slice().reverse()), y: p.hi.concat(p.lo.slice().reverse()),
    xaxis: p.xa, yaxis: p.ya, fill: 'toself', fillcolor: p.cBand, line: {width: 0}, hoverinfo: 'skip'});
  traces.push({type: 'scatter', mode: 'markers', x: p.dark.map(v => v[0]), y: p.dark.map(v => v[1]),
    xaxis: p.xa, yaxis: p.ya, hoverinfo: 'skip', cliponaxis: false,
    marker: {size: 4.6, color: p.dark.map(() => p.level), colorscale: p.scale, cmin: p.cmin, cmax: p.cmax,
      showscale: true, colorbar: p.cb}});
  traces.push({type: 'scatter', mode: 'lines', x: p.fx, y: p.fy, xaxis: p.xa, yaxis: p.ya,
    line: {color: p.cLine, width: 2}, hoverinfo: 'skip'});
  traces.push({type: 'bar', x: p.hx, y: p.hy, width: p.hw, xaxis: p.hxa, yaxis: p.hya,
    marker: {color: p.hc, line: {width: 0}}, hoverinfo: 'skip'});
  traces.push({type: 'scatter', mode: 'lines', x: [p.obs, p.obs], y: [0, p.obsTop], xaxis: p.hxa, yaxis: p.hya,
    line: {color: p.dash, width: 1.6, dash: 'dash'}, hoverinfo: 'skip'});
});
traces.push({type: 'bar', x: fHistTailX, y: fHistTailY, width: 0.01, xaxis: 'x10', yaxis: 'y10',
  marker: {color: '#c8161e', line: {width: 0}}, hoverinfo: 'skip'});

const ttl = (t, s) => ({text: t, font: font(FS), standoff: s});
const layout = {
  width: W, height: H, margin: {l: 0, r: 0, t: 0, b: 0}, showlegend: false,
  paper_bgcolor: '#ffffff', plot_bgcolor: 'rgba(0,0,0,0)', font: font(FS), barmode: 'overlay',
  xaxis: axis([X(69), X(737)], [-0.71, 113.3], aXTicks, {anchor: 'y', title: ttl('Canonical variate', 5)}),
  yaxis: axis([Y(313), Y(14)], [0, 7.5], aYTicks, {anchor: 'x', ticktext: aYTickText, title: ttl('Covariance explained', 3)}),
  xaxis2: axis([X(273), X(698)], [0, 7.7], bVariate, {anchor: 'y2', title: ttl('Canonical variate', 7)}),
  yaxis2: axis([Y(215), Y(14)], [0.2, 0.8], [0.2,0.4,0.6,0.8], {anchor: 'x2', tickformat: '.1f', title: ttl('Correlation', 5)}),
  xaxis3: axis([X(40), X(360)], [-15.1, 14.9], [-15,-10,-5,0,5,10], {anchor: 'y3', title: ttl('Brain connectivity score', 10)}),
  yaxis3: axis([Y(660.7), Y(400)], [-6.45, 10.24], [-5,0,5,10], {anchor: 'x3', title: ttl('Clinical dimension score', 5)}),
  xaxis4: histAxis([X(50), X(160)], [0.4248, 0.7347], [0.5,0.6,0.7], 'y4'),
  yaxis4: hiddenAxis([Y(519), Y(440)], [0, 237], 'x4'),
  xaxis5: axis([X(423.3), X(743.3)], [-11.66, 13.78], [-10,-5,0,5,10], {anchor: 'y5', title: ttl('Brain connectivity score', 10)}),
  yaxis5: axis([Y(660.7), Y(400)], [-5.1, 11.19], [-5,0,5,10], {anchor: 'x5', title: ttl('Clinical dimension score', 5)}),
  xaxis6: histAxis([X(436), X(540)], [0.4266, 0.7237], [0.5,0.6,0.7], 'y6'),
  yaxis6: hiddenAxis([Y(524), Y(444)], [0, 240], 'x6'),
  xaxis7: axis([X(39.3), X(360)], [-13.0, 13.11], [-10,-5,0,5,10], {anchor: 'y7', title: ttl('Brain connectivity score', 7)}),
  yaxis7: axis([Y(1015), Y(754)], [-5.07, 9.27], [-5,0,5], {anchor: 'x7', title: ttl('Clinical dimension score', 5)}),
  xaxis8: histAxis([X(50), X(153)], [0.4213, 0.7182], [0.5,0.6,0.7], 'y8'),
  yaxis8: hiddenAxis([Y(874), Y(795)], [0, 237], 'x8'),
  xaxis9: axis([X(423.3), X(736.7)], [-15.31, 15.02], [-15,-10,-5,0,5,10,15], {anchor: 'y9', title: ttl('Brain connectivity score', 7)}),
  yaxis9: axis([Y(1011.7), Y(753.3)], [-5.98, 7.08], [-3,0,3,6], {anchor: 'x9', title: ttl('Clinical dimension score', 5)}),
  xaxis10: histAxis([X(433), X(537)], [0.4317, 0.7029], [0.45,0.55,0.65], 'y10'),
  yaxis10: hiddenAxis([Y(872.3), Y(792)], [0, 240.8], 'x10'),
  shapes: [{type: 'line', xref: 'x domain', yref: 'y', x0: 0, x1: 1, y0: aNullLevel, y1: aNullLevel,
    line: {color: INK, width: 1.4, dash: 'dash'}}],
  annotations: []
};

const ann = layout.annotations;
function txt(t, x, y, s, opts) {
  ann.push(Object.assign({text: t, x: X(x), y: Y(y), xref: 'paper', yref: 'paper', showarrow: false,
    xanchor: 'center', yanchor: 'middle', font: font(s)}, opts || {}));
}
// panel letters
[['a',7,11],['b',234,11],['c',5,384],['d',388,383],['e',5,736],['f',385,736]].forEach(l =>
  txt('<b>' + l[0] + '</b>', l[1], l[2], 18));
// panel titles
txt('Mood', 200, 388, FS); txt('Psychosis', 583, 388, FS);
txt('Fear', 183, 741, FS); txt('Externalizing behavior', 585, 741, FS);
// colorbar labels
txt('Feeling sad', 129, 415, FS); txt('Auditory perceptions', 510, 415, FS);
txt('Fear of traveling', 118, 768, FS); txt('Trouble following instructions', 515, 767, FS);
// p-values
txt('<i>P</i><sub>FDR</sub>< 0.001', 55, 451, 10.5, {xanchor: 'left'});
txt('<i>P</i><sub>FDR</sub>< 0.001', 439, 456, 10.5, {xanchor: 'left'});
txt('<i>P</i><sub>FDR</sub>< 0.01', 53, 806, 10.5, {xanchor: 'left'});
txt('<i>P</i><sub>FDR</sub>= 0.07<br><i>P</i><sub>uncorrected</sub>= 0.04', 430, 810, 10.5, {xanchor: 'left', align: 'left'});
// r values
txt('<i>r</i> = 0.70', 305, 636.5, FS); txt('<i>r</i> = 0.71', 688, 637.5, FS);
txt('<i>r</i> = 0.68', 305, 990.5, FS); txt('<i>r</i> = 0.68', 691.5, 988, FS);
// panel b labels and significance
bNames.forEach((n, i) => ann.push({text: n, x: bVariate[i], y: 0.45, xref: 'x2', yref: 'y2', showarrow: false,
  textangle: -90, font: font(FS, '#ffffff'), xanchor: 'center', yanchor: 'middle'}));
bSig.forEach((s, i) => ann.push({text: s, x: bVariate[i], y: bSigY[i], xref: 'x2', yref: 'y2', showarrow: false,
  font: font(FS), xanchor: 'center', yanchor: 'middle'}));

Plotly.newPlot('chart', traces, layout, {displayModeBar: false, staticPlot: true});
</script></body></html>
